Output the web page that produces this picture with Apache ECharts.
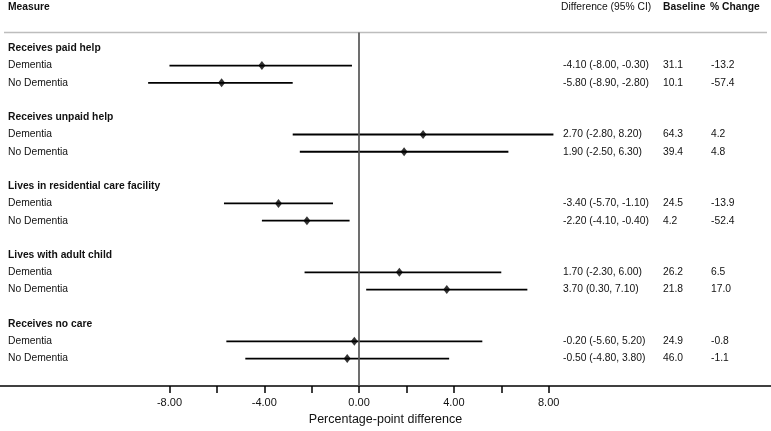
<!DOCTYPE html>
<html><head><meta charset="utf-8">
<script src="https://cdn.jsdelivr.net/npm/echarts@6/dist/echarts.min.js"></script>
<style>html,body{margin:0;padding:0;background:#fff}#c{width:771px;height:431px}</style>
</head><body><div id="c"></div>
<script>
const groups = ['Receives paid help', 'Receives unpaid help', 'Lives in residential care facility', 'Lives with adult child', 'Receives no care'];
const subgroups = ['Dementia', 'No Dementia'];
const estimate = [-4.10, -5.80, 2.70, 1.90, -3.40, -2.20, 1.70, 3.70, -0.20, -0.50];
const lower = [-8.00, -8.90, -2.80, -2.50, -5.70, -4.10, -2.30, 0.30, -5.60, -4.80];
const upper = [-0.30, -2.80, 8.20, 6.30, -1.10, -0.40, 6.00, 7.10, 5.20, 3.80];
const baseline = ['31.1', '10.1', '64.3', '39.4', '24.5', '4.2', '26.2', '21.8', '24.9', '46.0'];
const pctChange = ['-13.2', '-57.4', '4.2', '4.8', '-13.9', '-52.4', '6.5', '17.0', '-0.8', '-1.1'];
const xTicks = [-8, -6, -4, -2, 0, 2, 4, 6, 8];
const xTickLabels = [-8, -4, 0, 4, 8];
const headers = ['Measure', 'Difference (95% CI)', 'Baseline', '% Change'];
const axisTitle = 'Percentage-point difference';

const FONT = "'Liberation Sans', Arial, Helvetica, sans-serif";
const FS = 10.3;

const rowData = [];
const groupRows = [];
groups.forEach((g, gi) => {
  groupRows.push([0, gi * 4, gi]);
  subgroups.forEach((s, si) => {
    const i = gi * 2 + si;
    rowData.push([estimate[i], lower[i], upper[i], gi * 4 + 1 + si, i]);
  });
});

const colX = [8, 563, 663, 711];

const chart = echarts.init(document.getElementById('c'), null, {renderer: 'canvas'});
chart.setOption({
  animation: false,
  backgroundColor: '#fff',
  grid: {left: 0, right: 0, top: 32.5, bottom: 41.5, containLabel: false},
  xAxis: {
    type: 'value', min: -15.15, max: 17.38,
    splitLine: {show: false},
    axisLine: {show: true, onZero: false, lineStyle: {color: '#000', width: 1.5}},
    axisTick: {show: true, customValues: xTicks, length: 7, lineStyle: {color: '#000', width: 1.5}},
    axisLabel: {customValues: xTickLabels, formatter: v => Number(v).toFixed(2), fontSize: 11, color: '#111', margin: 11, fontFamily: FONT},
    name: axisTitle, nameLocation: 'middle', nameGap: 24,
    nameTextStyle: {fontSize: 12.5, color: '#111', fontFamily: FONT}
  },
  yAxis: {
    type: 'value', inverse: true, min: -0.92, max: 19.6,
    show: true,
    axisLine: {show: false}, axisTick: {show: false}, axisLabel: {show: false}, splitLine: {show: false}
  },
  graphic: [
    {type: 'line', shape: {x1: 4, y1: 32.5, x2: 767, y2: 32.5}, style: {stroke: '#bdbdbd', lineWidth: 1.5}, z: 1},
    {type: 'text', x: colX[0], y: 7, style: {text: headers[0], font: 'bold ' + FS + 'px ' + FONT, fill: '#111', verticalAlign: 'middle'}},
    {type: 'text', x: colX[1] - 2, y: 7, style: {text: headers[1], font: FS + 'px ' + FONT, fill: '#111', verticalAlign: 'middle'}},
    {type: 'text', x: colX[2], y: 7, style: {text: headers[2], font: 'bold ' + FS + 'px ' + FONT, fill: '#111', verticalAlign: 'middle'}},
    {type: 'text', x: colX[3] - 1, y: 7, style: {text: headers[3], font: 'bold ' + FS + 'px ' + FONT, fill: '#111', verticalAlign: 'middle'}}
  ],
  series: [
    {
      type: 'custom', name: 'ci', clip: false, z: 2,
      data: rowData,
      encode: {x: [1, 2], y: 3},
      renderItem(params, api) {
        const y = api.value(3);
        const p1 = api.coord([api.value(1), y]);
        const p2 = api.coord([api.value(2), y]);
        return {type: 'line', shape: {x1: p1[0], y1: p1[1], x2: p2[0], y2: p2[1]}, style: {stroke: '#000', lineWidth: 1.8}};
      }
    },
    {
      type: 'scatter', name: 'est', z: 3,
      data: rowData.map(r => [r[0], r[3]]),
      symbol: 'diamond', symbolSize: [7, 9],
      itemStyle: {color: '#000'},
      markLine: {
        silent: true, symbol: 'none', label: {show: false},
        lineStyle: {color: '#555', width: 1.7, type: 'solid'},
        data: [{xAxis: 0}]
      }
    },
    {
      type: 'custom', name: 'rowText', clip: false, z: 4,
      data: rowData,
      encode: {x: 0, y: 3},
      renderItem(params, api) {
        const i = api.value(4);
        const y = api.coord([0, api.value(3)])[1];
        const diff = estimate[i].toFixed(2) + ' (' + lower[i].toFixed(2) + ', ' + upper[i].toFixed(2) + ')';
        const texts = [subgroups[i % 2], diff, baseline[i], pctChange[i]];
        return {
          type: 'group',
          children: texts.map((t, k) => ({
            type: 'text', x: colX[k], y: y,
            style: {text: t, font: FS + 'px ' + FONT, fill: '#111', verticalAlign: 'middle'}
          }))
        };
      }
    },
    {
      type: 'custom', name: 'groupText', clip: false, z: 4,
      data: groupRows,
      encode: {x: 0, y: 1},
      renderItem(params, api) {
        const y = api.coord([0, api.value(1)])[1];
        return {type: 'text', x: colX[0], y: y,
          style: {text: groups[api.value(2)], font: 'bold ' + FS + 'px ' + FONT, fill: '#111', verticalAlign: 'middle'}};
      }
    }
  ]
});
</script>
</body></html>
